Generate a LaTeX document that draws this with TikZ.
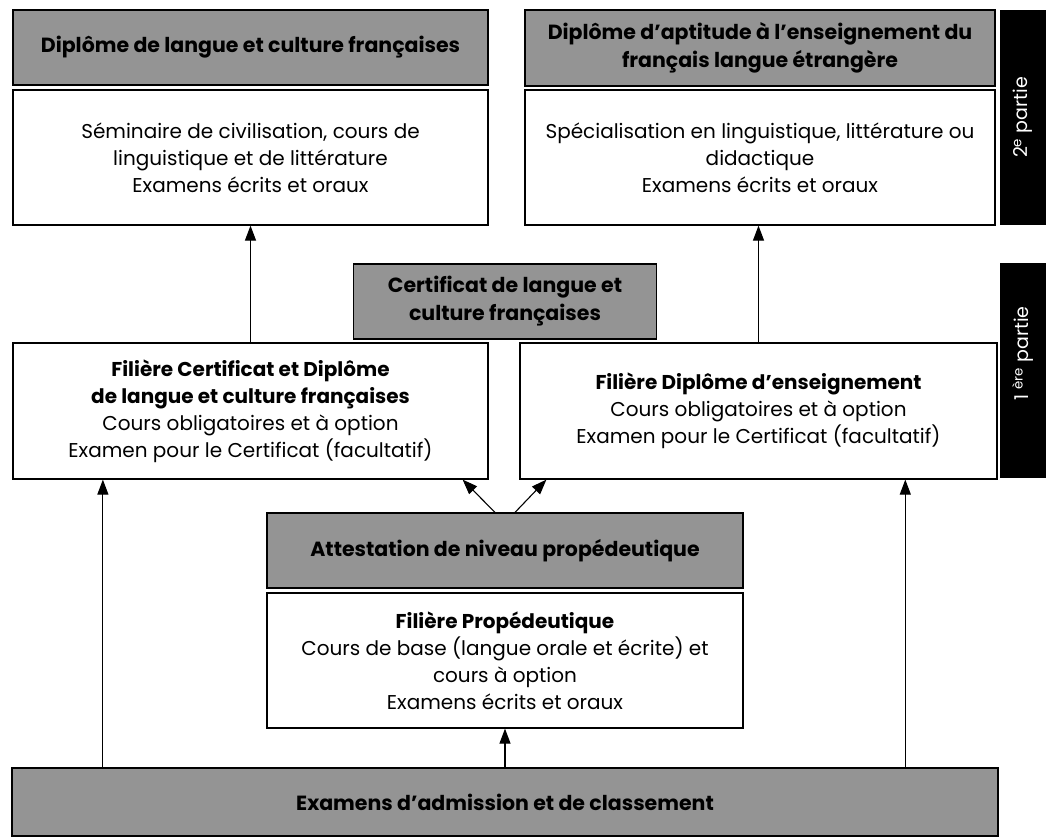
\documentclass[tikz,border=0pt]{standalone}
\usepackage{fontspec}
\setmainfont{Poppins}
\usetikzlibrary{arrows.meta,calc,positioning}

\tikzset{
  hdr/.style={draw=black, line width=1.2pt, fill=black!42, inner sep=0pt, align=center,
    font=\bfseries\fontsize{20.5}{28}\selectfont},
  bodybox/.style={draw=black, line width=1.2pt, fill=white, inner sep=0pt, align=center,
    font=\fontsize{20}{27}\selectfont},
  tabbox/.style={fill=black, text=white, inner sep=0pt, rotate=90,
    minimum width=215pt, minimum height=46pt, font=\fontsize{19}{22}\selectfont},
  up/.style={line width=1.1pt, -{Triangle[length=15pt,width=11pt]}}
}

\begin{document}
\begin{tikzpicture}[x=1pt,y=-1pt]
  \useasboundingbox (0,0) rectangle (1050,836);

  %%% 2e partie
  \node[hdr, minimum width=475pt, minimum height=75pt] (dlcfhdr) at (250.5,47.5)
    {Diplôme de langue et culture françaises};
  \node[bodybox, minimum width=475pt, minimum height=135pt] (dlcf) at (250.5,157.5)
    {Séminaire de civilisation, cours de\\ linguistique et de littérature\\ Examens écrits et oraux};
  \node[hdr, minimum width=470pt, minimum height=76pt] (dafehdr) at (760,48)
    {Diplôme d’aptitude à l’enseignement du\\ français langue étrangère};
  \node[bodybox, minimum width=470pt, minimum height=135pt] (dafe) at (760,157.5)
    {Spécialisation en linguistique, littérature ou\\ didactique\\ Examens écrits et oraux};
  \node[tabbox] (tab2) at (1023,117.5) {2\textsuperscript{e} partie};

  %%% 1ere partie
  \node[hdr, minimum width=303pt, minimum height=75pt] (clcf) at (505,301.5)
    {Certificat de langue et\\ culture françaises};
  \node[bodybox, minimum width=475pt, minimum height=136pt] (fcert) at (250.5,411)
    {\textbf{Filière Certificat et Diplôme}\\ \textbf{de langue et culture françaises}\\
     Cours obligatoires et à option\\ Examen pour le Certificat (facultatif)};
  \node[bodybox, minimum width=477pt, minimum height=136pt] (fdip) at (758.5,411)
    {\textbf{Filière Diplôme d’enseignement}\\ Cours obligatoires et à option\\
     Examen pour le Certificat (facultatif)};
  \node[tabbox] (tab1) at (1023,370.5) {\hspace*{34pt}1 \textsuperscript{ère} partie};

  %%% propedeutique
  \node[hdr, minimum width=476pt, minimum height=75pt] (att) at (505,550.5)
    {Attestation de niveau propédeutique};
  \node[bodybox, minimum width=476pt, minimum height=135pt] (prop) at (505,660.5)
    {\textbf{Filière Propédeutique}\\ Cours de base (langue orale et écrite) et\\
     cours à option\\ Examens écrits et oraux};
  \node[hdr, minimum width=986pt, minimum height=68pt] (exam) at (505,802)
    {Examens d’admission et de classement};

  %%% arrows
  \coordinate (fcertin) at ($(fcert.south west)!0.19!(fcert.south east)$);
  \coordinate (fdipin) at ($(fdip.south west)!0.807!(fdip.south east)$);
  \draw[up] (exam.north -| fcertin) -- (fcertin);
  \draw[up] (exam.north -| fdipin) -- (fdipin);
  \draw[up] (exam.north -| prop.south) -- (prop.south);
  \draw[up] ($(att.north)+(-10,0)$) -- ($(fcert.south east)+(-26,0)$);
  \draw[up] ($(att.north)+(10,0)$) -- ($(fdip.south west)+(27,0)$);
  \draw[up] (fcert.north) -- (fcert.north |- dlcf.south);
  \draw[up] (fdip.north) -- (fdip.north |- dafe.south);
\end{tikzpicture}
\end{document}
